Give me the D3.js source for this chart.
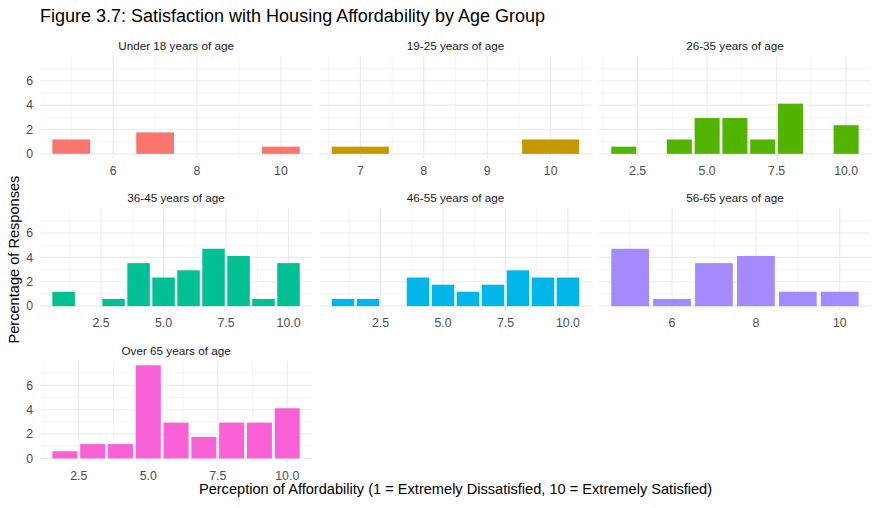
<!DOCTYPE html>
<html>
<head>
<meta charset="utf-8">
<script src="https://cdn.jsdelivr.net/npm/d3@7"></script>
<style>
  body { margin: 0; background: #fff; }
  text { font-family: "Liberation Sans", Arial, sans-serif; }
</style>
</head>
<body>
<svg id="chart"></svg>
<script>
// facet data: percentage of responses by affordability score
const ageGroups = ["Under 18 years of age", "19-25 years of age", "26-35 years of age",
  "36-45 years of age", "46-55 years of age", "56-65 years of age", "Over 65 years of age"];
const groupColors = ["#F8766D", "#C49A00", "#53B400", "#00C094", "#00B6EB", "#A58AFF", "#FB61D7"];

const scores = [
  [5, 7, 10],
  [7, 10],
  [2, 4, 5, 6, 7, 8, 10],
  [1, 3, 4, 5, 6, 7, 8, 9, 10],
  [1, 2, 4, 5, 6, 7, 8, 9, 10],
  [5, 6, 7, 8, 9, 10],
  [2, 3, 4, 5, 6, 7, 8, 9, 10]
];
const percents = [
  [1.18, 1.76, 0.59],
  [0.59, 1.18],
  [0.59, 1.18, 2.94, 2.94, 1.18, 4.12, 2.35],
  [1.18, 0.59, 3.53, 2.35, 2.94, 4.71, 4.12, 0.59, 3.53],
  [0.59, 0.59, 2.35, 1.76, 1.18, 1.76, 2.94, 2.35, 2.35],
  [4.71, 0.59, 3.53, 4.12, 1.18, 1.18],
  [0.59, 1.18, 1.18, 7.65, 2.94, 1.76, 2.94, 2.94, 4.12]
];
const xTicks = [
  [6, 8, 10],
  [7, 8, 9, 10],
  [2.5, 5, 7.5, 10],
  [2.5, 5, 7.5, 10],
  [2.5, 5, 7.5, 10],
  [6, 8, 10],
  [2.5, 5, 7.5, 10]
];
const yTicks = [0, 2, 4, 6];

const W = 879, H = 508;
const padLeft = 40, padRight = 871, padTop = 56;
const colGap = 7.3, rowStep = 152.3, panelH = 102.5;
const panelW = (padRight - padLeft - 2 * colGap) / 3;
const barWidth = 0.9;

const svg = d3.select("#chart").attr("width", W).attr("height", H);

// shared y scale
const yMax = d3.max(percents.flat());
const yPad = yMax * 0.05;
const y = d3.scaleLinear().domain([-yPad, yMax + yPad]).range([panelH, 0]);

const fmt = (ticks) => ticks.some(t => t % 1 !== 0) ? d3.format(".1f") : d3.format("d");

ageGroups.forEach((name, i) => {
  const col = i % 3, row = Math.floor(i / 3);
  const px = padLeft + col * (panelW + colGap);
  const py = padTop + row * rowStep;
  const g = svg.append("g").attr("transform", `translate(${px},${py})`);

  const xs = scores[i];
  const lo = d3.min(xs) - barWidth / 2, hi = d3.max(xs) + barWidth / 2;
  const pad = (hi - lo) * 0.05;
  const x = d3.scaleLinear().domain([lo - pad, hi + pad]).range([0, panelW]);

  // minor breaks
  const maj = xTicks[i];
  const step = maj[1] - maj[0];
  const minorX = [maj[0] - step / 2, ...maj.map(t => t + step / 2)]
    .filter(v => v >= x.domain()[0] && v <= x.domain()[1]);
  const minorY = [1, 3, 5, 7];

  g.selectAll(".minx").data(minorX).join("line")
    .attr("x1", d => x(d)).attr("x2", d => x(d)).attr("y1", 0).attr("y2", panelH)
    .attr("stroke", "#ebebeb").attr("stroke-width", 0.55);
  g.selectAll(".miny").data(minorY).join("line")
    .attr("x1", 0).attr("x2", panelW).attr("y1", d => y(d)).attr("y2", d => y(d))
    .attr("stroke", "#ebebeb").attr("stroke-width", 0.55);
  g.selectAll(".majx").data(maj).join("line")
    .attr("x1", d => x(d)).attr("x2", d => x(d)).attr("y1", 0).attr("y2", panelH)
    .attr("stroke", "#ebebeb").attr("stroke-width", 1.1);
  g.selectAll(".majy").data(yTicks).join("line")
    .attr("x1", 0).attr("x2", panelW).attr("y1", d => y(d)).attr("y2", d => y(d))
    .attr("stroke", "#ebebeb").attr("stroke-width", 1.1);

  // bars
  g.selectAll("rect").data(xs).join("rect")
    .attr("x", d => x(d - barWidth / 2))
    .attr("width", x(barWidth) - x(0))
    .attr("y", (d, j) => y(percents[i][j]))
    .attr("height", (d, j) => y(0) - y(percents[i][j]))
    .attr("fill", groupColors[i]);

  // strip label
  g.append("text")
    .attr("x", panelW / 2).attr("y", -6)
    .attr("text-anchor", "middle")
    .attr("font-size", "11.7px").attr("fill", "#1a1a1a")
    .text(name);

  // x axis labels
  const f = fmt(maj);
  g.selectAll(".xl").data(maj).join("text")
    .attr("x", d => x(d)).attr("y", panelH + 16.5)
    .attr("text-anchor", "middle")
    .attr("font-size", "12.3px").attr("fill", "#4d4d4d")
    .text(d => f(d));

  // y axis labels on left column
  if (col === 0) {
    g.selectAll(".yl").data(yTicks).join("text")
      .attr("x", -7).attr("y", d => y(d)).attr("dy", "0.35em")
      .attr("text-anchor", "end")
      .attr("font-size", "12.3px").attr("fill", "#4d4d4d")
      .text(d => d);
  }
});

// titles
svg.append("text")
  .attr("x", 40).attr("y", 22)
  .attr("font-size", "18px").attr("fill", "#000")
  .text("Figure 3.7: Satisfaction with Housing Affordability by Age Group");

svg.append("text")
  .attr("x", (padLeft + padRight) / 2).attr("y", 494)
  .attr("text-anchor", "middle")
  .attr("font-size", "14.6px").attr("fill", "#000")
  .text("Perception of Affordability (1 = Extremely Dissatisfied, 10 = Extremely Satisfied)");

svg.append("text")
  .attr("transform", `translate(18.5,${padTop + (2 * rowStep + panelH) / 2}) rotate(-90)`)
  .attr("text-anchor", "middle")
  .attr("font-size", "14.6px").attr("fill", "#000")
  .text("Percentage of Responses");
</script>
</body>
</html>
